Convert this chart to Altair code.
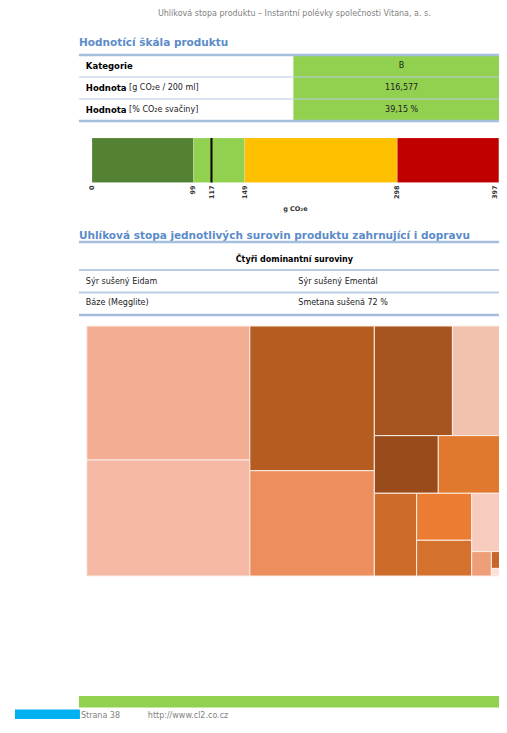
import altair as alt
import pandas as pd

# ---------------- data ----------------
header_text = "Uhlíková stopa produktu – Instantní polévky společnosti Vitana, a. s."
title1 = "Hodnotící škála produktu"
title2 = "Uhlíková stopa jednotlivých surovin produktu zahrnující i dopravu"

t1_labels = ["Kategorie", "Hodnota", "Hodnota"]
t1_units = ["", "[g CO₂e / 200 ml]", "[% CO₂e svačiny]"]
t1_values = ["B", "116,577", "39,15 %"]

scale_starts = [0, 99, 149, 298]
scale_ends = [99, 149, 298, 397]
scale_colors = ["#548235", "#92D050", "#FFC000", "#C00000"]
scale_ticks = [0, 99, 117, 149, 298, 397]
product_value = 116.577
scale_unit = "g CO₂e"

t2_header = "Čtyři dominantní suroviny"
t2_col1 = ["Sýr sušený Eidam", "Báze (Megglite)"]
t2_col2 = ["Sýr sušený Ementál", "Smetana sušená 72 %"]

tm_names = ["Sýr sušený Eidam", "Báze (Megglite)", "Sýr sušený Ementál", "Smetana sušená 72 %",
            "Surovina 5", "Surovina 6", "Surovina 7", "Surovina 8", "Surovina 9", "Surovina 10",
            "Surovina 11", "Surovina 12", "Surovina 13", "Surovina 14", "Surovina 15"]
tm_values = [24.54, 21.24, 20.24, 14.73, 9.62, 6.10, 4.14, 4.12, 3.93, 2.91, 2.21, 1.98, 0.54, 0.20, 0.09]
tm_colors = ["#F2AD93", "#F4B8A4", "#B55C20", "#EC8E5E", "#A65420", "#F3C2AF", "#9A4B1C", "#E0782E",
             "#CD6B2A", "#EC7C31", "#D4712C", "#F7CCBE", "#EE9E78", "#C8662A", "#FBE2DA"]
tm_groups = [2, 2, 2, 2, 1, 2, 1, 1, 1, 1]

footer_page = "Strana 38"
footer_url = "http://www.cl2.co.cz"

# ---------------- layout helpers ----------------
W, H = 491, 712
FONT = "DejaVu Sans"
TITLE_BLUE = "#5B8BC8"
GRAY = "#7F7F7F"
LINE_DARK = "#A5BEDD"
LINE_LIGHT = "#BACDE3"


def X(x):
    # page x (reference) -> page x (fitted to the 491px wide drawing area)
    return 15 + (x - 15) * (484.0 / 492.0)


def px(x):
    return X(x) - 8


def py(y):
    return y - 8


one = pd.DataFrame({"k": [0]})
layers = []


def text(txt, x, y, size=8, color="#111111", bold=False, align="left"):
    return alt.Chart(pd.DataFrame({"t": [txt]})).mark_text(
        align=align, baseline="middle", fontSize=size, font=FONT,
        fontWeight="bold" if bold else "normal", color=color
    ).encode(x=alt.value(px(x)), y=alt.value(py(y)), text="t:N")


def box(x0, x1, y0, y1, color, **kw):
    return alt.Chart(one).mark_rect(color=color, **kw).encode(
        x=alt.value(px(x0)), x2=alt.value(px(x1)), y=alt.value(py(y0)), y2=alt.value(py(y1)))


def hline(y, x0, x1, color, width):
    return alt.Chart(one).mark_rule(color=color, strokeWidth=width).encode(
        x=alt.value(px(x0)), x2=alt.value(px(x1)), y=alt.value(py(y)))


# header
layers.append(text(header_text, 299, 13.5, 8, GRAY, align="center"))

# ---- section 1 ----
layers.append(text(title1, 80, 42.5, 10.5, TITLE_BLUE, bold=True))
layers.append(box(298, 520, 55, 121, "#92D050"))
for yy, w, c in [(55, 2.5, LINE_DARK), (77, 1.2, LINE_LIGHT), (99, 1.2, LINE_LIGHT), (121, 2.5, LINE_DARK)]:
    layers.append(hline(yy, 80, 520, c, w))
row_y1 = [66, 88, 110]
for i in range(3):
    layers.append(text(t1_labels[i], 87, row_y1[i], 8.5, "#000000", bold=True))
    if t1_units[i]:
        layers.append(text(t1_units[i], 131, row_y1[i], 8, "#222222"))
    layers.append(text(t1_values[i], 408, row_y1[i], 8, "#222222", align="center"))

# ---- scale bar ----
scale_max = scale_ends[-1]
xs = alt.Scale(domain=[scale_starts[0], scale_max], range=[px(93.3), px(506.8)])
bar_df = pd.DataFrame({"start": scale_starts, "end": scale_ends, "color": scale_colors})
layers.append(alt.Chart(bar_df).mark_rect(stroke="#FFFFFF", strokeOpacity=0.3, strokeWidth=0.5).encode(
    x=alt.X("start:Q", scale=xs, axis=None), x2="end:Q",
    y=alt.value(py(138)), y2=alt.value(py(182.5)),
    color=alt.Color("color:N", scale=None)))
layers.append(alt.Chart(pd.DataFrame({"v": [product_value]})).mark_rule(color="#000000", strokeWidth=2).encode(
    x=alt.X("v:Q", scale=xs, axis=None), y=alt.value(py(138)), y2=alt.value(py(182.5))))
tick_df = pd.DataFrame({"v": scale_ticks})
tick_style = dict(angle=270, align="right", baseline="middle", fontSize=6.5, font=FONT,
                  fontWeight="bold", color="#333333")
layers.append(alt.Chart(tick_df).transform_filter(alt.datum.v < scale_max).mark_text(**tick_style).encode(
    x=alt.X("v:Q", scale=xs, axis=None), y=alt.value(py(185.5)), text="v:N"))
# last label nudged inwards (offset acts in the rotated frame) so that it stays on the page
layers.append(alt.Chart(tick_df).transform_filter(alt.datum.v >= scale_max).mark_text(dy=-4, **tick_style).encode(
    x=alt.X("v:Q", scale=xs, axis=None), y=alt.value(py(185.5)), text="v:N"))
layers.append(text(scale_unit, 300, 209, 6.5, "#333333", bold=True, align="center"))

# ---- section 2 ----
layers.append(text(title2, 80, 235.5, 10.5, TITLE_BLUE, bold=True))
for yy, w, c in [(242, 2.5, LINE_DARK), (270, 1.8, LINE_LIGHT), (292.5, 1.8, LINE_LIGHT), (315, 2.5, LINE_DARK)]:
    layers.append(hline(yy, 80, 520, c, w))
layers.append(text(t2_header, 299, 259.5, 8, "#000000", bold=True, align="center"))
row_y2 = [281.5, 303]
for i in range(2):
    layers.append(text(t2_col1[i], 87, row_y2[i], 8, "#222222"))
    layers.append(text(t2_col2[i], 303, row_y2[i], 8, "#222222"))

# ---- treemap (squarified strips, sizes from values) ----
TM_W, TM_H = 422.0, 250.0


def strip_layout(values, groups, w, h):
    k = w * h / sum(values)
    areas = [v * k for v in values]
    x0, y0, x1, y1 = 0.0, 0.0, w, h
    out = []
    i = 0
    for g in groups:
        grp = areas[i:i + g]
        s = sum(grp)
        dx, dy = x1 - x0, y1 - y0
        if dy <= dx:
            cw = s / dy
            yy = y0
            for a in grp:
                hh = a / cw
                out.append((x0, x0 + cw, yy, yy + hh))
                yy += hh
            x0 += cw
        else:
            rh = s / dx
            xx = x0
            for a in grp:
                ww = a / rh
                out.append((xx, xx + ww, y0, y0 + rh))
                xx += ww
            y0 += rh
        i += g
    return out


rects = strip_layout(tm_values, tm_groups, TM_W, TM_H)
tm_df = pd.DataFrame({
    "name": tm_names, "value": tm_values, "color": tm_colors,
    "x0": [r[0] for r in rects], "x1": [r[1] for r in rects],
    "y0": [r[2] for r in rects], "y1": [r[3] for r in rects],
})
tx = alt.Scale(domain=[0, TM_W], range=[px(88), px(510)])
ty = alt.Scale(domain=[0, TM_H], range=[py(326), py(576)])
layers.append(alt.Chart(tm_df).mark_rect(stroke="#FBEDE6", strokeWidth=1).encode(
    x=alt.X("x0:Q", scale=tx, axis=None), x2="x1:Q",
    y=alt.Y("y0:Q", scale=ty, axis=None), y2="y1:Q",
    color=alt.Color("color:N", scale=None),
    tooltip=["name:N", "value:Q"]))

# ---- footer (raised slightly so that it fits the page) ----
layers.append(box(80, 520, 696, 707.5, "#92D050"))
layers.append(box(15, 81, 709.5, 719, "#00B0F0"))
layers.append(text(footer_page, 82, 716, 8, GRAY))
layers.append(text(footer_url, 150, 716, 8, GRAY))

chart = alt.layer(*layers).resolve_scale(x="independent", y="independent").properties(
    width=W, height=H, autosize=alt.AutoSizeParams(type="none"), padding=0, background="white"
).configure_view(stroke=None)

chart.save("out.html", embed_options={"renderer": "svg", "actions": False})
